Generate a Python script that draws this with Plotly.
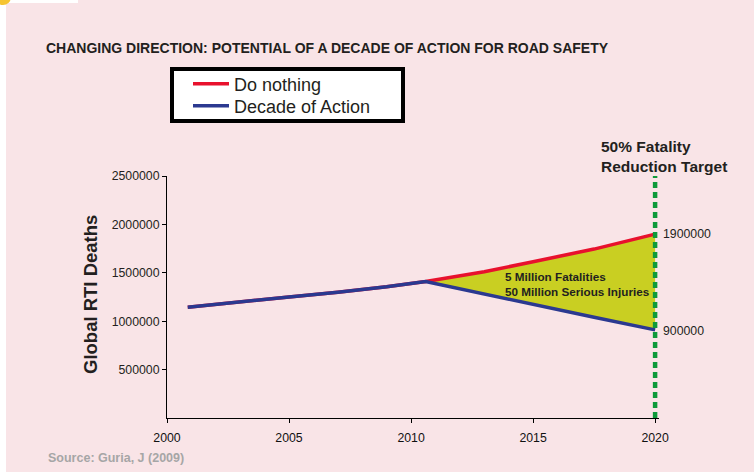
import plotly.graph_objects as go

# ---- data ----
shared_years = [2000.85, 2003, 2005, 2007, 2009, 2010.6]
shared_deaths = [1145000, 1195000, 1250000, 1300000, 1355000, 1410000]

proj_years = [2010.6, 2013, 2015, 2017.5, 2020]
do_nothing = [1410000, 1510000, 1615000, 1745000, 1900000]
decade_action = [1410000, 1280000, 1170000, 1040000, 910000]

target_year = 2020
end_labels = ["1900000", "900000"]
end_values = [1900000, 900000]

x_ticks = [2000, 2005, 2010, 2015, 2020]
y_ticks = [500000, 1000000, 1500000, 2000000, 2500000]

PINK = "#F9E4E7"
RED = "#E8112D"
BLUE = "#2B3990"
FILL = "#C9CF22"
GREEN = "#0E9A3A"
FONT = "Liberation Sans, Arial, sans-serif"

W, H = 754, 472
L, R, T, B = 167, 95, 176, 54
pw, ph = W - L - R, H - T - B


def px(x):
    return (x - L) / pw


def py(y):
    return (H - B - y) / ph


fig = go.Figure()

# gap area between the two projections
fig.add_trace(go.Scatter(
    x=proj_years + proj_years[::-1],
    y=do_nothing + decade_action[::-1],
    fill="toself", fillcolor=FILL, mode="none",
    showlegend=False, hoverinfo="skip"))

fig.add_trace(go.Scatter(
    x=shared_years + proj_years[1:],
    y=shared_deaths + do_nothing[1:],
    mode="lines", line=dict(color=RED, width=3.5),
    name="Do nothing", legend="legend"))

fig.add_trace(go.Scatter(
    x=shared_years + proj_years[1:],
    y=shared_deaths + decade_action[1:],
    mode="lines", line=dict(color=BLUE, width=3.5),
    name="Decade of Action", legend="legend2"))

shapes = [
    # target line
    dict(type="line", xref="x", yref="y", x0=target_year, x1=target_year,
         y0=0, y1=y_ticks[-1], line=dict(color=GREEN, width=4.5, dash="6px,4px")),
    # legend box
    dict(type="rect", xref="paper", yref="paper", x0=px(172), x1=px(403),
         y0=py(121), y1=py(69), fillcolor="white",
         line=dict(color="black", width=4), layer="above"),
    # white page edges
    dict(type="rect", xref="paper", yref="paper", x0=px(-2), x1=px(6),
         y0=py(480), y1=py(-5), fillcolor="white", line=dict(width=0), layer="below"),
    dict(type="rect", xref="paper", yref="paper", x0=px(-2), x1=px(78),
         y0=py(3), y1=py(-5), fillcolor="white", line=dict(width=0), layer="below"),
    dict(type="circle", xref="paper", yref="paper", x0=px(-5), x1=px(11),
         y0=py(5), y1=py(-11), fillcolor="#F6C431", line=dict(width=0), layer="below"),
]

annotations = [
    dict(text="CHANGING DIRECTION: POTENTIAL OF A DECADE OF ACTION FOR ROAD SAFETY",
         xref="paper", yref="paper", x=px(44), y=py(48), xanchor="left", yanchor="middle",
         showarrow=False, font=dict(family=FONT, size=14, color="#231F20", weight="bold")),
    dict(text="Source: Guria, J (2009)", xref="paper", yref="paper",
         x=px(46), y=py(458), xanchor="left", yanchor="middle", showarrow=False,
         font=dict(family=FONT, size=12.5, color="#A6A6A6", weight="bold")),
    dict(text="Global RTI Deaths", xref="paper", yref="paper", x=px(90), y=py(295),
         textangle=-90, xanchor="center", yanchor="middle", showarrow=False,
         font=dict(family=FONT, size=18.5, color="#231F20", weight="bold")),
    dict(text="50% Fatality<br>Reduction Target", xref="paper", yref="paper",
         x=px(599), y=py(156.5), xanchor="left", yanchor="middle", align="left",
         showarrow=False,
         font=dict(family=FONT, size=15.5, color="#231F20", weight="bold")),
    dict(text="5 Million Fatalities<br>50 Million Serious Injuries", xref="paper", yref="paper",
         x=px(503), y=py(284), xanchor="left", yanchor="middle", align="left",
         showarrow=False,
         font=dict(family=FONT, size=11.7, color="#231F20", weight="bold")),
]
for lab, val in zip(end_labels, end_values):
    annotations.append(dict(text=lab, x=target_year, y=val, xref="x", yref="y",
                            xanchor="left", yanchor="middle", xshift=6, showarrow=False,
                            font=dict(family=FONT, size=12.3, color="#231F20")))

leg_common = dict(xanchor="left", yanchor="middle", bgcolor="rgba(0,0,0,0)", borderwidth=0,
                  font=dict(family=FONT, size=18, color="#231F20"), itemwidth=36)

fig.update_layout(
    width=W, height=H,
    margin=dict(l=L, r=R, t=T, b=B, pad=0),
    paper_bgcolor=PINK, plot_bgcolor=PINK,
    font=dict(family=FONT, color="#231F20"),
    showlegend=True,
    legend=dict(x=px(188), y=py(84), **leg_common),
    legend2=dict(x=px(188), y=py(106), **leg_common),
    shapes=shapes,
    annotations=annotations,
    xaxis=dict(range=[2000, 2020.16], tickvals=x_ticks, ticktext=[str(v) for v in x_ticks],
               showgrid=False, zeroline=False, showline=True, linecolor="black", linewidth=1,
               ticks="outside", ticklen=4, tickcolor="black", ticklabelstandoff=4,
               tickfont=dict(family=FONT, size=12.3, color="#111111")),
    yaxis=dict(range=[0, 2500000], tickvals=y_ticks, ticktext=[str(v) for v in y_ticks],
               showgrid=False, zeroline=False, showline=True, linecolor="black", linewidth=1,
               ticks="outside", ticklen=4, tickcolor="black",
               tickfont=dict(family=FONT, size=12.3, color="#231F20")),
)

fig.write_html("out.html", config={"displayModeBar": False},
               post_script="document.body.style.margin='0px';document.body.style.padding='0px';")
